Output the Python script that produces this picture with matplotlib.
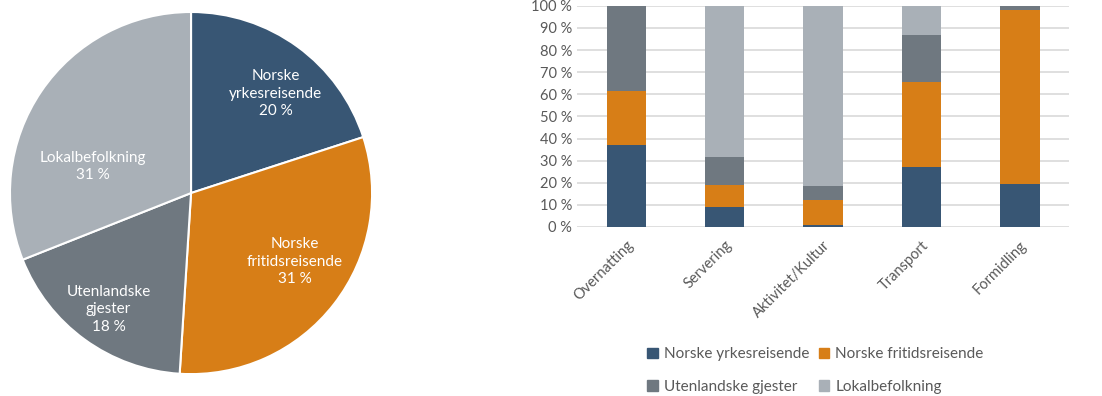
import numpy as np
import matplotlib.pyplot as plt
from matplotlib.patches import Patch

plt.rcParams['font.family'] = ['Lato', 'DejaVu Sans']

# Pie: share of visitors by group
groups = ['Norske yrkesreisende', 'Norske fritidsreisende', 'Utenlandske gjester', 'Lokalbefolkning']
pie_labels = ['Norske\nyrkesreisende', 'Norske\nfritidsreisende', 'Utenlandske\ngjester', 'Lokalbefolkning']
pie_share = [20, 31, 18, 31]

# Stacked bars: share per industry (%)
industries = ['Overnatting', 'Servering', 'Aktivitet/Kultur', 'Transport', 'Formidling']
yrkes = [37.0, 9.2, 0.8, 27.0, 19.4]
fritid = [24.3, 9.9, 11.6, 38.4, 78.7]
utenl = [38.7, 12.5, 6.1, 21.4, 1.9]
lokal = [0.0, 68.4, 81.5, 13.2, 0.0]

colors = ['#385674', '#D77E17', '#6F7880', '#A9B0B7']
text_col = '#595959'

fig = plt.figure(figsize=(11.02, 3.96), dpi=100)

# --- pie ---
ax1 = fig.add_axes([0.0082, 0.053, 0.3303, 0.919])
wedges, _ = ax1.pie(pie_share, colors=colors, startangle=90, counterclock=False,
                    wedgeprops=dict(edgecolor='white', linewidth=1.5))
ax1.set_xlim(-1.005, 1.005)
ax1.set_ylim(-1.005, 1.005)
ax1.set_aspect('equal')
# label placement inside each wedge (in units of the radius)
label_pos = [(0.467, 0.549), (0.571, -0.379), (-0.456, -0.643), (-0.544, 0.148)]
for lab, val, (lx, ly) in zip(pie_labels, pie_share, label_pos):
    ax1.text(lx, ly, f'{lab}\n{val} %', color='white',
             ha='center', va='center', fontsize=11, linespacing=1.3)

# --- stacked bars ---
ax2 = fig.add_axes([0.5236, 0.4268, 0.4465, 0.5585])
x = np.arange(len(industries))
bottom = np.zeros(len(industries))
for vals, c, name in zip([yrkes, fritid, utenl, lokal], colors, groups):
    ax2.bar(x, vals, 0.4, bottom=bottom, color=c, label=name, zorder=3)
    bottom += np.array(vals)

ax2.set_xlim(-0.5, len(industries) - 0.5)
ax2.set_ylim(0, 100)
ax2.set_yticks(np.arange(0, 101, 10))
ax2.set_yticklabels([f'{v} %' for v in range(0, 101, 10)])
ax2.yaxis.grid(True, color='#D9D9D9', linewidth=1.2, zorder=0)
ax2.set_xticks(x)
ax2.set_xticklabels(industries, rotation=45, ha='right', rotation_mode='anchor')
ax2.tick_params(axis='both', length=0, colors=text_col, labelsize=10.5)
ax2.tick_params(axis='x', pad=8)
for s in ax2.spines.values():
    s.set_visible(False)

# legend fills column-wise, so order entries to read row by row
order = [0, 2, 1, 3]
handles = [Patch(color=colors[i]) for i in order]
fig.legend(handles, [groups[i] for i in order], loc='center',
           bbox_to_anchor=(0.74, 0.064), ncol=2, frameon=False, fontsize=11,
           handlelength=0.7, handleheight=0.7, handletextpad=0.4,
           columnspacing=0.6, labelspacing=1.2, labelcolor=text_col)

fig.savefig('out.png', dpi=100)
